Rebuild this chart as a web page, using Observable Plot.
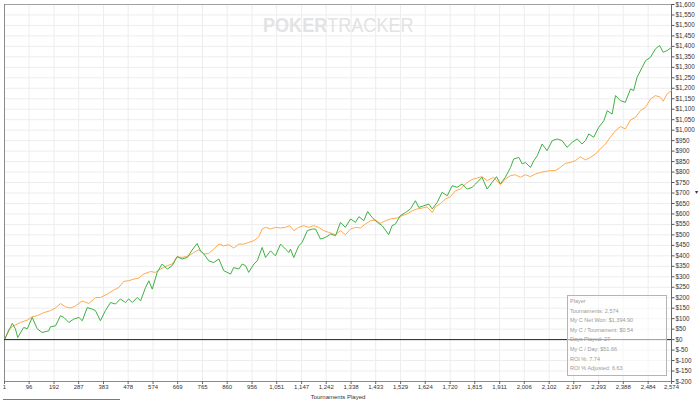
<!DOCTYPE html>
<html>
<head>
<meta charset="utf-8">
<script src="https://cdn.jsdelivr.net/npm/d3@7"></script>
<script src="https://cdn.jsdelivr.net/npm/@observablehq/plot@0.6"></script>
<style>
  html, body { margin: 0; padding: 0; background: #fff; }
  #wrap { position: relative; width: 700px; height: 401px; overflow: hidden; font-family: "Liberation Sans", Arial, sans-serif; }
  #wrap svg { position: absolute; left: 0; top: 0; }
  #watermark { position: absolute; left: 263px; top: 13px; white-space: nowrap; color: #e3e3e3; font-size: 21px; line-height: 24px; transform-origin: 0 0; transform: scaleX(0.86); }
  #watermark b { font-weight: 700; }
  #watermark span { font-weight: 400; }
  #stats { position: absolute; left: 567px; top: 295px; width: 100px; height: 81px; border: 1px solid #b4b4b4; background: rgba(255,255,255,0.55); box-sizing: border-box; padding: 1px 0 0 2px; }
  #stats div { font-size: 5.5px; line-height: 9.6px; color: #9a9a9a; white-space: nowrap; }
  #scroll { position: absolute; left: 3px; top: 399px; width: 117px; height: 1px; background: #7a7a7a; }
  #handle { position: absolute; left: 695px; top: 188px; font-size: 6px; color: #333; }
</style>
</head>
<body>
<div id="wrap">
  <div id="watermark"><b>POKER</b><span>TRACKER</span></div>
</div>
<script>
// Tournaments played (x) vs cumulative winnings in $ (y)
const greenPoints = [[1,0],[31,77],[43,52],[52,10],[75,58],[89,52],[108,106],[127,52],[146,34],[172,42],[178,61],[198,66],[217,114],[230,106],[249,82],[268,98],[288,106],[301,90],[320,153],[339,146],[352,138],[371,90],[390,138],[410,177],[429,170],[448,194],[468,177],[480,194],[494,177],[513,201],[526,185],[545,249],[558,281],[571,241],[590,321],[609,361],[629,337],[648,353],[667,396],[686,385],[706,392],[725,428],[744,459],[757,424],[770,409],[789,376],[808,368],[828,385],[847,329],[873,313],[885,344],[905,337],[918,361],[931,353],[943,321],[963,361],[976,376],[995,440],[1008,392],[1027,424],[1046,400],[1066,456],[1085,432],[1098,416],[1104,432],[1117,392],[1136,448],[1149,464],[1169,520],[1188,528],[1201,528],[1220,480],[1239,488],[1259,504],[1278,496],[1297,560],[1316,536],[1336,576],[1355,560],[1368,587],[1387,568],[1402,612],[1419,583],[1439,560],[1458,544],[1483,501],[1496,544],[1509,552],[1528,592],[1548,607],[1567,624],[1586,663],[1599,631],[1618,639],[1638,647],[1651,624],[1670,655],[1689,703],[1709,687],[1728,735],[1747,727],[1766,743],[1786,719],[1805,727],[1818,743],[1843,775],[1863,719],[1882,751],[1899,778],[1914,743],[1933,775],[1953,822],[1965,862],[1985,870],[1998,839],[2010,846],[2030,822],[2043,854],[2056,878],[2075,934],[2094,902],[2114,950],[2133,958],[2152,950],[2171,918],[2191,942],[2210,958],[2229,934],[2242,950],[2255,982],[2274,966],[2293,1013],[2313,1045],[2326,1093],[2345,1077],[2358,1165],[2377,1141],[2396,1133],[2416,1197],[2428,1189],[2441,1252],[2461,1300],[2474,1332],[2493,1348],[2512,1388],[2528,1404],[2542,1372],[2557,1380],[2574,1395]];

const orangePoints = [[1,0],[18,50],[37,66],[63,82],[89,93],[108,109],[127,114],[153,129],[178,138],[198,151],[217,172],[236,157],[256,151],[275,161],[301,185],[326,172],[352,201],[371,201],[397,217],[423,237],[442,249],[461,278],[480,281],[500,289],[519,294],[538,313],[564,325],[583,321],[603,337],[629,353],[648,361],[667,396],[686,392],[712,400],[731,416],[750,428],[770,409],[789,411],[808,432],[828,456],[847,448],[866,453],[885,437],[905,456],[924,456],[943,464],[963,472],[982,491],[995,528],[1008,536],[1027,528],[1046,536],[1066,533],[1085,536],[1101,544],[1117,520],[1136,536],[1155,544],[1175,536],[1194,544],[1213,536],[1233,520],[1252,512],[1278,501],[1297,520],[1316,501],[1336,528],[1355,536],[1374,533],[1393,552],[1413,568],[1432,571],[1451,555],[1471,568],[1490,576],[1516,581],[1535,592],[1554,600],[1574,615],[1593,624],[1612,628],[1631,634],[1651,607],[1663,634],[1683,650],[1702,671],[1721,682],[1741,711],[1760,719],[1779,743],[1796,759],[1811,767],[1843,778],[1863,759],[1888,775],[1914,740],[1933,767],[1953,783],[1972,787],[1991,775],[2010,787],[2030,778],[2049,791],[2068,798],[2087,803],[2107,807],[2126,807],[2145,822],[2164,841],[2184,846],[2203,854],[2222,873],[2242,858],[2261,870],[2280,886],[2300,910],[2319,934],[2338,966],[2358,998],[2377,1017],[2396,1006],[2416,1049],[2435,1061],[2454,1093],[2474,1109],[2493,1149],[2512,1165],[2532,1157],[2542,1138],[2557,1173],[2574,1189]];

const xTicks = [1,96,192,287,383,478,574,669,765,860,956,1051,1147,1242,1338,1433,1529,1624,1720,1815,1911,2006,2102,2197,2293,2388,2484,2574];
const yTicks = [-200,-150,-100,-50,0,50,100,150,200,250,300,350,400,450,500,550,600,650,700,750,800,850,900,950,1000,1050,1100,1150,1200,1250,1300,1350,1400,1450,1500,1550,1600];
const xTitle = "Tournaments Played";
const statsLines = ["Player","Tournaments: 2,574","My C Net Won: $1,394.90","My C / Tournament: $0.54","Days Played: 27","My C / Day: $51.66","ROI %: 7.74","ROI % Adjusted: 6.63"];

const green = greenPoints.map(([t, v]) => ({t, v}));
const orange = orangePoints.map(([t, v]) => ({t, v}));
const fmtComma = d3.format(",");
const fmtDollar = d => d < 0 ? "$-" + fmtComma(-d) : "$" + fmtComma(d);

const chart = Plot.plot({
  width: 700,
  height: 401,
  marginTop: 4,
  marginLeft: 4,
  marginRight: 29,
  marginBottom: 20,
  style: {fontFamily: "'Liberation Sans', Arial, sans-serif", background: "transparent", color: "#333"},
  x: {domain: [1, 2574]},
  y: {domain: [-200, 1600]},
  marks: [
    Plot.gridX(xTicks, {stroke: "#ededed", strokeOpacity: 1}),
    Plot.gridY(yTicks, {stroke: "#ededed", strokeOpacity: 1}),
    Plot.ruleY([1600], {stroke: "#a0a0a0"}),
    Plot.ruleX([1], {stroke: "#8a8a8a"}),
    Plot.ruleY([-200], {stroke: "#8a8a8a"}),
    Plot.ruleX([2574], {stroke: "#666"}),
    Plot.line(orange, {x: "t", y: "v", stroke: "#ffa94f", strokeWidth: 1}),
    Plot.line(green, {x: "t", y: "v", stroke: "#3fb043", strokeWidth: 1}),
    Plot.ruleY([0], {stroke: "#222"}),
    Plot.axisY(yTicks, {anchor: "right", tickSize: 2.5, tickPadding: 1.5, fontSize: 6.3, tickFormat: fmtDollar, label: null, stroke: "#555", fill: "#333"}),
    Plot.axisX(xTicks, {anchor: "bottom", tickSize: 3, tickPadding: 0.5, fontSize: 6, tickFormat: fmtComma, label: xTitle, labelAnchor: "center", labelArrow: "none", labelOffset: 17, stroke: "#666", fill: "#333"})
  ]
});

const wrap = document.getElementById("wrap");
wrap.insertBefore(chart, wrap.firstChild);

const stats = document.createElement("div");
stats.id = "stats";
statsLines.forEach(s => { const d = document.createElement("div"); d.textContent = s; stats.appendChild(d); });
wrap.appendChild(stats);

const scroll = document.createElement("div");
scroll.id = "scroll";
wrap.appendChild(scroll);

const handle = document.createElement("div");
handle.id = "handle";
handle.textContent = "▾";
wrap.appendChild(handle);
</script>
</body>
</html>
